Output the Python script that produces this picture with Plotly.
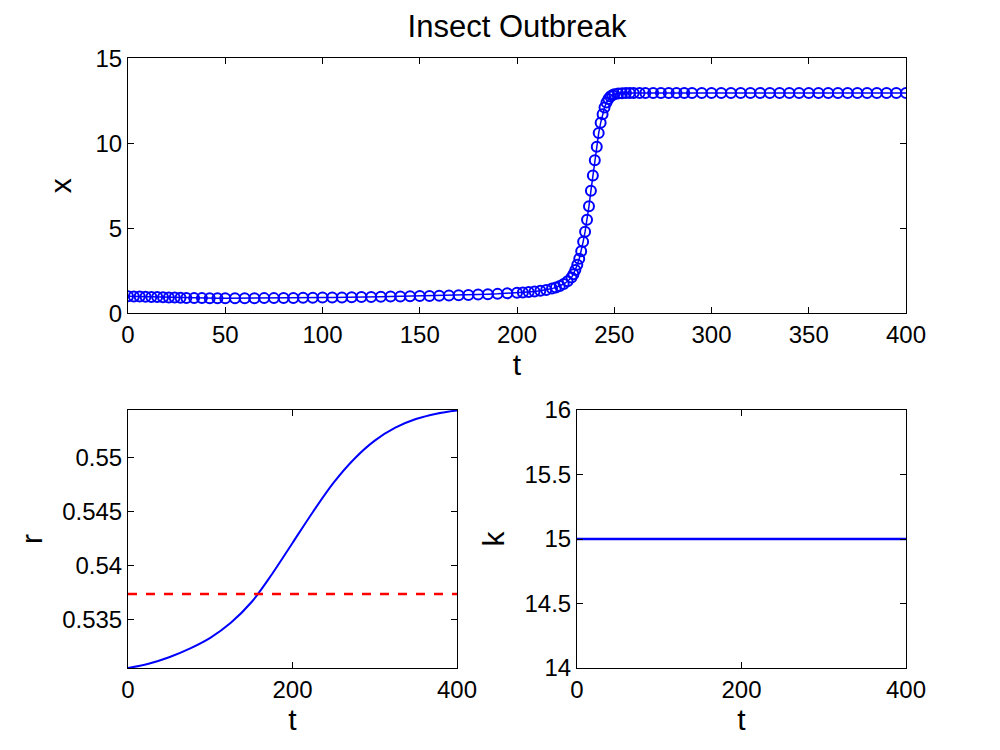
import plotly.graph_objects as go

# top panel: solver output x(t)
t_x = [0, 3, 6, 9, 12, 15, 18, 21, 24, 27, 30, 34, 38, 42, 46, 50, 55, 60, 65, 70, 75, 80,
       85, 90, 95, 100, 105, 110, 115, 120, 125, 130, 135, 140, 145, 150, 155, 160, 165,
       170, 175, 180, 185, 190, 195, 200, 203, 206, 209, 212, 215, 218, 220, 222, 224,
       226, 228, 229, 230, 231, 232, 233, 234, 235, 236, 237, 238, 239, 240, 241, 242,
       243, 244, 245, 246, 247, 248, 249, 250, 252, 254, 256, 258, 260, 263, 266, 270,
       274, 278, 282, 286, 290, 295, 300, 305, 310, 315, 320, 325, 330, 335, 340, 345,
       350, 355, 360, 365, 370, 375, 380, 385, 390, 395, 400]
x_vals = [1.0, 0.99, 0.98, 0.97, 0.96, 0.95, 0.94, 0.93, 0.92, 0.91, 0.9, 0.89, 0.89, 0.88,
          0.88, 0.88, 0.88, 0.88, 0.88, 0.89, 0.89, 0.9, 0.9, 0.91, 0.91, 0.92, 0.93, 0.93,
          0.94, 0.95, 0.96, 0.97, 0.98, 0.99, 1.0, 1.01, 1.02, 1.03, 1.05, 1.06, 1.08, 1.1,
          1.12, 1.14, 1.17, 1.2, 1.22, 1.25, 1.28, 1.32, 1.37, 1.45, 1.52, 1.6, 1.72, 1.88,
          2.1, 2.3, 2.55, 2.85, 3.2, 3.65, 4.2, 4.8, 5.5, 6.3, 7.2, 8.1, 9.0, 9.8, 10.6,
          11.2, 11.7, 12.1, 12.4, 12.6, 12.75, 12.83, 12.88, 12.92, 12.94, 12.95, 12.95,
          12.95, 12.95, 12.95, 12.95, 12.95, 12.95, 12.95, 12.95, 12.95, 12.95, 12.96,
          12.96, 12.96, 12.96, 12.96, 12.96, 12.96, 12.96, 12.96, 12.96, 12.96, 12.96,
          12.96, 12.96, 12.96, 12.96, 12.96, 12.96, 12.96, 12.96, 12.96]

# bottom left: r(t) and its mean
t_r = [0, 25, 50, 75, 100, 125, 150, 175, 200, 225, 250, 275, 300, 325, 350, 375, 400]
r_vals = [0.5305, 0.5309, 0.5315, 0.5323, 0.5333, 0.5347, 0.5366, 0.5392, 0.5421, 0.5450,
          0.5477, 0.5499, 0.5516, 0.5528, 0.5536, 0.5541, 0.5544]
r_mean = 0.53736

# bottom right: k(t)
t_k = [0, 400]
k_vals = [15, 15]

blue = '#0000FF'
fig = go.Figure()
fig.add_trace(go.Scatter(x=t_x, y=x_vals, mode='markers+lines',
                         line=dict(color=blue, width=1.5),
                         marker=dict(symbol='circle-open', color=blue, size=10, line=dict(width=2)),
                         xaxis='x', yaxis='y'))
fig.add_trace(go.Scatter(x=t_r, y=r_vals, mode='lines', line=dict(color=blue, width=2),
                         line_shape='spline', xaxis='x2', yaxis='y2'))
fig.add_trace(go.Scatter(x=[0, 400], y=[r_mean, r_mean], mode='lines',
                         line=dict(color='#FF0000', width=2.5, dash='dash'),
                         xaxis='x2', yaxis='y2'))
fig.add_trace(go.Scatter(x=t_k, y=k_vals, mode='lines', line=dict(color=blue, width=2.5),
                         xaxis='x3', yaxis='y3'))

font = dict(family='Liberation Sans, Arial', size=24, color='black')
tfont = dict(family='Liberation Sans, Arial', size=30, color='black')
ax = dict(showgrid=False, zeroline=False, showline=True, mirror='ticks', linecolor='black',
          linewidth=1, ticks='inside', ticklen=6, tickcolor='black', tickfont=font,
          automargin=False)
fig.update_layout(
    width=1000, height=750, showlegend=False,
    plot_bgcolor='white', paper_bgcolor='white',
    margin=dict(l=0, r=0, t=0, b=0),
    font=font,
    title=dict(text='Insect Outbreak', x=0.509, xanchor='center', y=0.976, yanchor='middle',
               font=dict(family='Liberation Sans, Arial', size=31, color='black')),
    xaxis=dict(ax, domain=[0.120, 0.898], range=[0, 400], dtick=50,
               title=dict(text='t', font=tfont, standoff=2), anchor='y'),
    yaxis=dict(ax, domain=[0.593, 0.933], range=[0, 15], dtick=5,
               title=dict(text='x', font=tfont, standoff=14), anchor='x'),
    xaxis2=dict(ax, domain=[0.120, 0.449], range=[0, 400], dtick=200,
                title=dict(text='t', font=tfont, standoff=2), anchor='y2'),
    yaxis2=dict(ax, domain=[0.12, 0.464], range=[0.5305, 0.55444],
                tickvals=[0.535, 0.54, 0.545, 0.55],
                ticktext=['0.535', '0.54', '0.545', '0.55'],
                title=dict(text='r', font=tfont, standoff=10), anchor='x2'),
    xaxis3=dict(ax, domain=[0.569, 0.898], range=[0, 400], dtick=200,
                title=dict(text='t', font=tfont, standoff=2), anchor='y3'),
    yaxis3=dict(ax, domain=[0.12, 0.464], range=[14, 16], dtick=0.5,
                title=dict(text='k', font=tfont, standoff=10), anchor='x3'),
)
fig.write_html('out.html')
